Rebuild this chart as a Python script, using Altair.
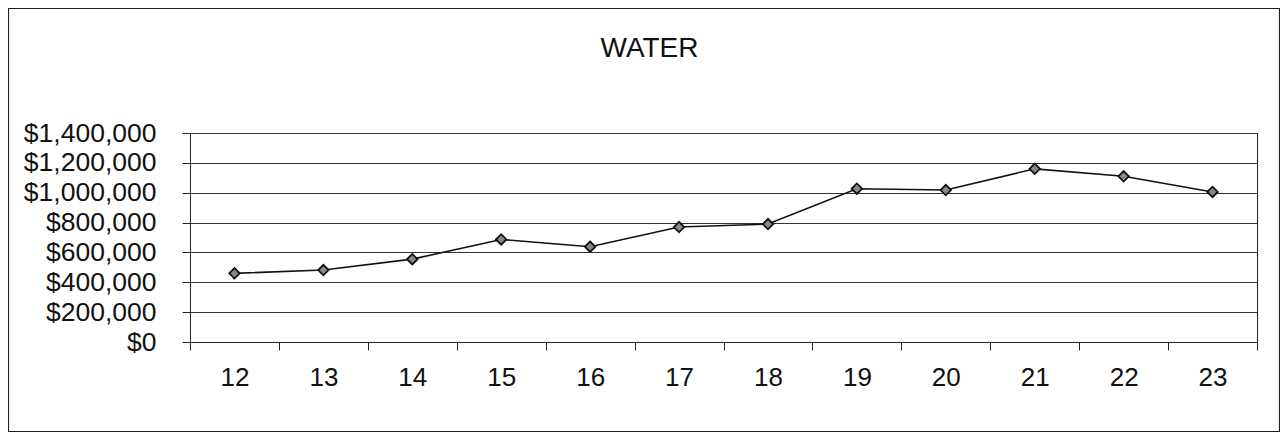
import altair as alt
import pandas as pd

years = ["12", "13", "14", "15", "16", "17", "18", "19", "20", "21", "22", "23"]
water = [460000, 482000, 555000, 687000, 638000, 770000, 790000, 1027000, 1018000, 1160000, 1110000, 1005000]
y_ticks = [0, 200000, 400000, 600000, 800000, 1000000, 1200000, 1400000]

df = pd.DataFrame({"year": years, "water": water})

FONT = "Liberation Sans, Arial, sans-serif"
W, H = 1067, 209
PAD = {"left": 182, "top": 125, "right": 23, "bottom": 90}

x_enc = alt.X(
    "year:O",
    sort=years,
    scale=alt.Scale(type="band", paddingInner=0, paddingOuter=0),
    axis=alt.Axis(
        title=None, labelAngle=0, tickBand="extent", grid=False,
        tickSize=8, tickColor="#222", domainColor="#222",
        labelFontSize=26, labelFont=FONT, labelColor="#111", labelPadding=14,
    ),
)
y_enc = alt.Y(
    "water:Q",
    scale=alt.Scale(domain=[0, 1400000], nice=False),
    axis=alt.Axis(
        title=None, values=y_ticks, format="$,.0f",
        tickSize=8, tickColor="#222", domainColor="#222",
        gridColor="#333", gridWidth=1,
        labelFontSize=26.5, labelFont=FONT, labelColor="#111", labelPadding=26,
    ),
)

base = alt.Chart(df).encode(x=x_enc, y=y_enc)
line = base.mark_line(color="#111", strokeWidth=1.6)
pts = base.mark_point(shape="diamond", size=110, filled=True, fill="#888",
                      stroke="#111", strokeWidth=1.8, opacity=1)

frame = alt.Chart(pd.DataFrame({"f": [0]})).mark_rect(
    fill=None, stroke="#222", strokeWidth=1.2, clip=False
).encode(
    x=alt.value(-PAD["left"] + 0.5),
    x2=alt.value(W + PAD["right"] - 0.5),
    y=alt.value(-PAD["top"] + 0.5),
    y2=alt.value(H + PAD["bottom"] - 0.5),
)

chart = alt.layer(line, pts, frame).properties(
    width=W,
    height=H,
    padding=PAD,
    autosize=alt.AutoSizeParams(type="none"),
    background="white",
    title=alt.TitleParams(
        "WATER", fontSize=28, font=FONT, fontWeight="normal", color="#111",
        anchor="middle", dx=-74, baseline="alphabetic", offset=-77.5,
    ),
).configure_view(stroke="#222", strokeWidth=1)

chart.save("out.html", embed_options={"renderer": "svg", "actions": False})
